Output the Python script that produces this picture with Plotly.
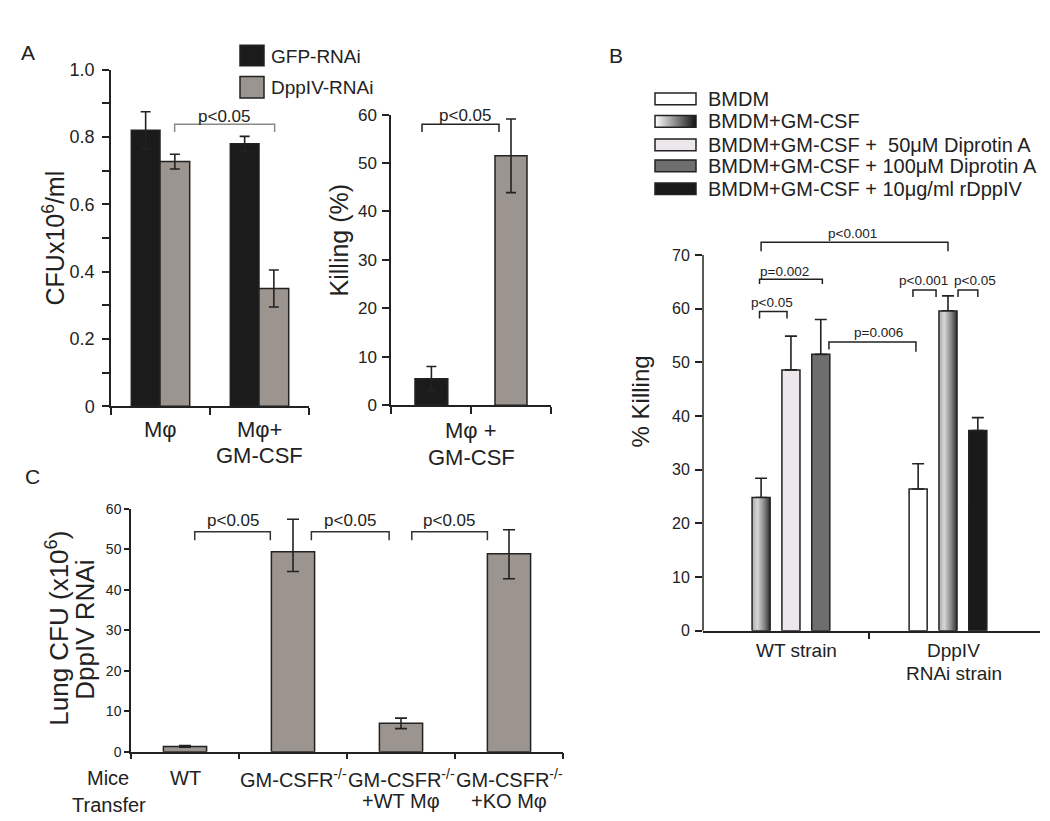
import plotly.graph_objects as go

W, H = 1050, 821
FONT = "Liberation Sans, Arial, Helvetica, sans-serif"
INK = "#222222"
GRAY = "#9c948e"
BLACK = "#1b1b1b"


def px(x):
    return x / W


def py(y):
    return 1 - y / H


# ---------------- data ----------------
# Panel A, left: CFU x10^6/ml
a_groups = ["Mφ", "Mφ+<br>GM-CSF"]
a_legend = ["GFP-RNAi", "DppIV-RNAi"]
a_gfp = [0.82, 0.78]
a_gfp_err = [0.055, 0.022]
a_dpp = [0.727, 0.35]
a_dpp_err = [0.022, 0.055]
a_ytickvals = [0, 0.2, 0.4, 0.6, 0.8, 1.0]
a_yticktext = ["0", "0.2", "0.4", "0.6", "0.8", "1.0"]
a_yminor = [0.1, 0.3, 0.5, 0.7, 0.9]

# Panel A, right: killing (%)
k_groups = ["Mφ +<br>GM-CSF"]
k_gfp = [5.5]
k_gfp_err = [2.5]
k_dpp = [51.5]
k_dpp_err = [7.6]
k_ytickvals = [0, 10, 20, 30, 40, 50, 60]

# Panel B: % killing
b_groups = ["WT strain", "DppIV<br>RNAi strain"]
b_names = ["BMDM", "BMDM+GM-CSF",
           "BMDM+GM-CSF +\u00a0\u00a050μM Diprotin A",
           "BMDM+GM-CSF + 100μM Diprotin A",
           "BMDM+GM-CSF + 10μg/ml rDppIV"]
b_bmdm = [None, 26.4]
b_bmdm_err = [None, 4.7]
b_gmcsf = [24.8, 59.6]
b_gmcsf_err = [3.6, 2.8]
b_dip50 = [48.6, None]
b_dip50_err = [6.3, None]
b_dip100 = [51.5, None]
b_dip100_err = [6.5, None]
b_rdpp = [None, 37.3]
b_rdpp_err = [None, 2.4]
# slot of each bar inside its strain group (-1 left, 0 middle, 1 right)
b_bmdm_slot = [None, -1]
b_gmcsf_slot = [-1, 0]
b_dip50_slot = [0, None]
b_dip100_slot = [1, None]
b_rdpp_slot = [None, 1]
b_ytickvals = [0, 10, 20, 30, 40, 50, 60, 70]

# Panel C: lung CFU
c_groups = ["WT", "GM-CSFR<sup>-/-</sup>",
            "GM-CSFR<sup>-/-</sup><br>+WT Mφ",
            "GM-CSFR<sup>-/-</sup><br>+KO Mφ"]
c_vals = [1.3, 49.4, 7.0, 48.9]
c_err_plus = [0.2, 8.0, 1.3, 5.9]
c_err_minus = [0.2, 4.9, 1.3, 6.2]
c_ytickvals = [0, 10, 20, 30, 40, 50, 60]

# significance brackets: (x0, x1, top, left end, right end, label, label x, label y)
a_brackets = [(0.143, 1.153, 0.838, 0.815, 0.815, "p<0.05", 0.643, 0.861)]
k_brackets = [(-0.306, 0.175, 58.0, 56.4, 56.4, "p<0.05", -0.04, 59.8)]
b_brackets = [
    (-0.19, 1.0, 72.4, 70.7, 70.7, "p<0.001", 0.395, 74.0),
    (-0.2, 0.2, 65.5, 64.6, 64.6, "p=0.002", -0.04, 66.9),
    (-0.2, -0.025, 59.5, 58.2, 58.2, "p<0.05", -0.12, 61.1),
    (0.242, 0.796, 53.8, 52.4, 52.0, "p=0.006", 0.555, 55.5),
    (0.777, 0.924, 63.5, 62.2, 62.2, "p<0.001", 0.847, 65.3),
    (1.064, 1.19, 63.5, 62.2, 62.2, "p<0.05", 1.172, 65.3),
]
c_brackets = [
    (0.09, 0.79, 54.3, 52.2, 52.2, "p<0.05", 0.44, 57.1),
    (1.17, 1.89, 54.3, 52.2, 52.2, "p<0.05", 1.53, 57.1),
    (2.10, 2.80, 54.3, 52.2, 52.2, "p<0.05", 2.44, 57.1),
]

# ---------------- figure ----------------
fig = go.Figure()
bar_line = dict(color=INK, width=1.5)


def errs(arr, width=5, minus=None):
    d = dict(type="data", array=arr, color=INK, thickness=1.6, width=width, visible=True)
    if minus is not None:
        d["symmetric"] = False
        d["arrayminus"] = minus
    return d


# Panel A left
a_x = list(range(len(a_groups)))
fig.add_trace(go.Bar(x=a_x, y=a_gfp, width=0.29, offset=-0.295, name=a_legend[0],
                     marker=dict(color=BLACK, line=bar_line), error_y=errs(a_gfp_err),
                     xaxis="x", yaxis="y"))
fig.add_trace(go.Bar(x=a_x, y=a_dpp, width=0.30, offset=-0.005, name=a_legend[1],
                     marker=dict(color=GRAY, line=bar_line), error_y=errs(a_dpp_err),
                     xaxis="x", yaxis="y"))

# Panel A right
k_x = list(range(len(k_groups)))
fig.add_trace(go.Bar(x=k_x, y=k_gfp, width=0.205, offset=-0.35, name=a_legend[0],
                     marker=dict(color=BLACK, line=bar_line), error_y=errs(k_gfp_err),
                     xaxis="x2", yaxis="y2"))
fig.add_trace(go.Bar(x=k_x, y=k_dpp, width=0.2, offset=0.15, name=a_legend[1],
                     marker=dict(color=GRAY, line=bar_line), error_y=errs(k_dpp_err),
                     xaxis="x2", yaxis="y2"))

# Panel B
B_SLOT = 0.19
B_W = 0.115
GRAD_BAR = [[0, "#a9a9a9"], [0.3, "#d6d6d6"], [0.65, "#8c8c8c"], [1, "#2e2e2e"]]
b_series = [
    (b_names[0], b_bmdm, b_bmdm_err, b_bmdm_slot, "#ffffff", False),
    (b_names[1], b_gmcsf, b_gmcsf_err, b_gmcsf_slot, None, True),
    (b_names[2], b_dip50, b_dip50_err, b_dip50_slot, "#ebe7ea", False),
    (b_names[3], b_dip100, b_dip100_err, b_dip100_slot, "#6e6e6e", False),
    (b_names[4], b_rdpp, b_rdpp_err, b_rdpp_slot, "#1a1a1a", False),
]
for name, vals, err, slots, color, grad in b_series:
    xs, ys, es = [], [], []
    for g, (v, e, s) in enumerate(zip(vals, err, slots)):
        if v is None:
            continue
        xs.append(g + s * B_SLOT)
        ys.append(v)
        es.append(e)
    fig.add_trace(go.Bar(
        x=xs, y=ys, width=B_W, offset=-B_W / 2, name=name,
        marker=dict(color="rgba(0,0,0,0)" if grad else color,
                    line=dict(color=INK, width=0 if grad else 1.5)),
        error_y=errs(es, width=6, minus=[0] * len(es)),
        xaxis="x3", yaxis="y3"))
    if grad:
        for x, v in zip(xs, ys):
            fig.add_trace(go.Scatter(
                x=[x - B_W / 2, x + B_W / 2, x + B_W / 2, x - B_W / 2, x - B_W / 2],
                y=[0, 0, v, v, 0], mode="lines", fill="toself",
                fillgradient=dict(type="horizontal", colorscale=GRAD_BAR),
                line=dict(color=INK, width=1.5), hoverinfo="skip",
                xaxis="x3", yaxis="y3"))

# Panel C
c_x = list(range(len(c_groups)))
fig.add_trace(go.Bar(x=c_x, y=c_vals, width=0.4, offset=-0.2, name="Lung CFU",
                     marker=dict(color=GRAY, line=bar_line),
                     error_y=errs(c_err_plus, width=6, minus=c_err_minus),
                     xaxis="x4", yaxis="y4"))

# ---------------- annotations & shapes ----------------
annotations = []
shapes = []


def txt(x, y, text, size, xref="paper", yref="paper", xanchor="center", yanchor="middle",
        angle=0, color=INK, xshift=0):
    annotations.append(dict(x=x, y=y, xref=xref, yref=yref, text=text, showarrow=False,
                            xanchor=xanchor, yanchor=yanchor, textangle=angle, xshift=xshift,
                            font=dict(family=FONT, size=size, color=color)))


def brackets(items, xr, yr, color, size, width=1.5):
    for x0, x1, top, yl, yrr, label, lx, ly in items:
        shapes.append(dict(type="path", xref=xr, yref=yr,
                           path=f"M{x0},{yl} L{x0},{top} L{x1},{top} L{x1},{yrr}",
                           line=dict(color=color, width=width)))
        txt(lx, ly, label, size, xref=xr, yref=yr, color=INK)


def xlabels(groups, xr, y_first, spacing, size, shift=0):
    for i, g in enumerate(groups):
        for j, line in enumerate(g.split("<br>")):
            txt(i, py(y_first + j * spacing), line, size, xref=xr, xshift=shift)


# panel letters
txt(px(20), py(35), "A", 21)
txt(px(608), py(38), "B", 21)
txt(px(24), py(470), "C", 21)

# Panel A
txt(px(46), py(226), "CFUx10<sup>6</sup>/ml", 25, angle=-90)
txt(px(331), py(228), "Killing (%)", 25, angle=-90)
xlabels(a_groups, "x", 422, 26, 22)
xlabels(k_groups, "x2", 423, 27, 22)
brackets(a_brackets, "x", "y", "#8e8984", 17)
brackets(k_brackets, "x2", "y2", INK, 17)
# legend A
for (top, bot), color, label in zip([(28, 49), (60, 82)], [BLACK, GRAY], a_legend):
    shapes.append(dict(type="rect", xref="paper", yref="paper", x0=px(232), x1=px(256),
                       y0=py(bot), y1=py(top), fillcolor=color, line=dict(color=INK, width=1.5)))
    txt(px(261), py((top + bot) / 2 + 0.5), label, 19, xanchor="left")

# Panel B
txt(px(632), py(393), "% Killing", 24, angle=-90)
xlabels(b_groups, "x3", 648, 24, 19, shift=6)
brackets(b_brackets, "x3", "y3", INK, 13.5)
shapes.append(dict(type="line", xref="x3 domain", yref="y3", x0=0, x1=0, y0=0, y1=70,
                   line=dict(color=INK, width=1.5)))
# legend B
leg_rows = [83, 106, 130, 151.5, 175]
leg_fill = ["#ffffff", None, "#ebe7ea", "#6e6e6e", "#1a1a1a"]
for yc, fill, label in zip(leg_rows, leg_fill, b_names):
    if fill is None:
        n = 20
        for i in range(n):
            v = int(round(250 - (250 - 25) * (i / (n - 1))))
            shapes.append(dict(type="rect", xref="paper", yref="paper",
                               x0=px(647 + 41 * i / n),
                               x1=px(min(688, 647 + 41 * (i + 1) / n + 1.2)),
                               y0=py(yc + 6), y1=py(yc - 6),
                               fillcolor=f"rgb({v},{v},{v})", line=dict(width=0)))
        shapes.append(dict(type="rect", xref="paper", yref="paper", x0=px(647), x1=px(688),
                           y0=py(yc + 6), y1=py(yc - 6), line=dict(color=INK, width=1.5)))
    else:
        shapes.append(dict(type="rect", xref="paper", yref="paper", x0=px(647), x1=px(688),
                           y0=py(yc + 6), y1=py(yc - 6), fillcolor=fill,
                           line=dict(color=INK, width=1.5)))
    txt(px(698), py(yc), label, 20, xanchor="left")

# Panel C
txt(px(50), py(626), "Lung CFU (x10<sup>6</sup>)", 26, angle=-90)
txt(px(77), py(627), "DppIV RNAi", 26, angle=-90)
xlabels(c_groups, "x4", 779, 24, 20)
txt(px(100), py(779), "Mice", 20)
txt(px(101), py(807), "Transfer", 20)
brackets(c_brackets, "x4", "y4", "#333333", 17)

# ---------------- axes ----------------
common_x = dict(showgrid=False, zeroline=False, showline=True, linecolor=INK, linewidth=1.5,
                ticks="outside", tickcolor=INK, tickwidth=1.5, showticklabels=False,
                fixedrange=True)
common_y = dict(showgrid=False, zeroline=False, showline=True, linecolor=INK, linewidth=1.5,
                ticks="outside", tickcolor=INK, tickwidth=1.5, fixedrange=True)

fig.update_layout(
    width=W, height=H, margin=dict(l=0, r=0, t=0, b=0),
    paper_bgcolor="white", plot_bgcolor="white", showlegend=False,
    barmode="overlay", font=dict(family=FONT, color=INK),
    xaxis=dict(common_x, domain=[px(103), px(301)], range=[-0.5, 1.5],
               tickvals=[-0.5, 0.5, 1.5], ticklen=7, anchor="y"),
    yaxis=dict(common_y, domain=[py(398), py(53)], range=[0, 1.0], tickvals=a_ytickvals,
               ticktext=a_yticktext, ticklen=7, ticklabelstandoff=4,
               tickfont=dict(size=18, color=INK), anchor="x",
               minor=dict(tickvals=a_yminor, ticks="outside", ticklen=7, tickwidth=1.5,
                          tickcolor=INK, showgrid=False)),
    xaxis2=dict(common_x, domain=[px(383), px(543)], range=[-0.5, 0.5],
                tickvals=[-0.5, 0, 0.5], ticklen=7, anchor="y2"),
    yaxis2=dict(common_y, domain=[py(397), py(99)], range=[0, 60], tickvals=k_ytickvals,
                ticklen=7, ticklabelstandoff=2, tickfont=dict(size=17, color=INK), anchor="x2"),
    xaxis3=dict(common_x, domain=[px(695), px(1032)], range=[-0.56, 1.586],
                tickvals=[0.5], ticklen=7, anchor="y3"),
    yaxis3=dict(common_y, domain=[py(628), py(210)], range=[0, 76], tickvals=b_ytickvals,
                showline=False, ticklen=7, ticklabelstandoff=2,
                tickfont=dict(size=16, color=INK), anchor="x3"),
    xaxis4=dict(common_x, domain=[px(123), px(555)], range=[-0.5, 3.5],
                tickvals=[-0.5, 0.5, 1.5, 2.5, 3.5], ticklen=6, anchor="y4"),
    yaxis4=dict(common_y, domain=[py(752), py(503)], range=[0, 60], tickvals=c_ytickvals,
                ticklen=5, tickfont=dict(size=14, color=INK), anchor="x4"),
    annotations=annotations, shapes=shapes,
)

fig.write_html("out.html")
